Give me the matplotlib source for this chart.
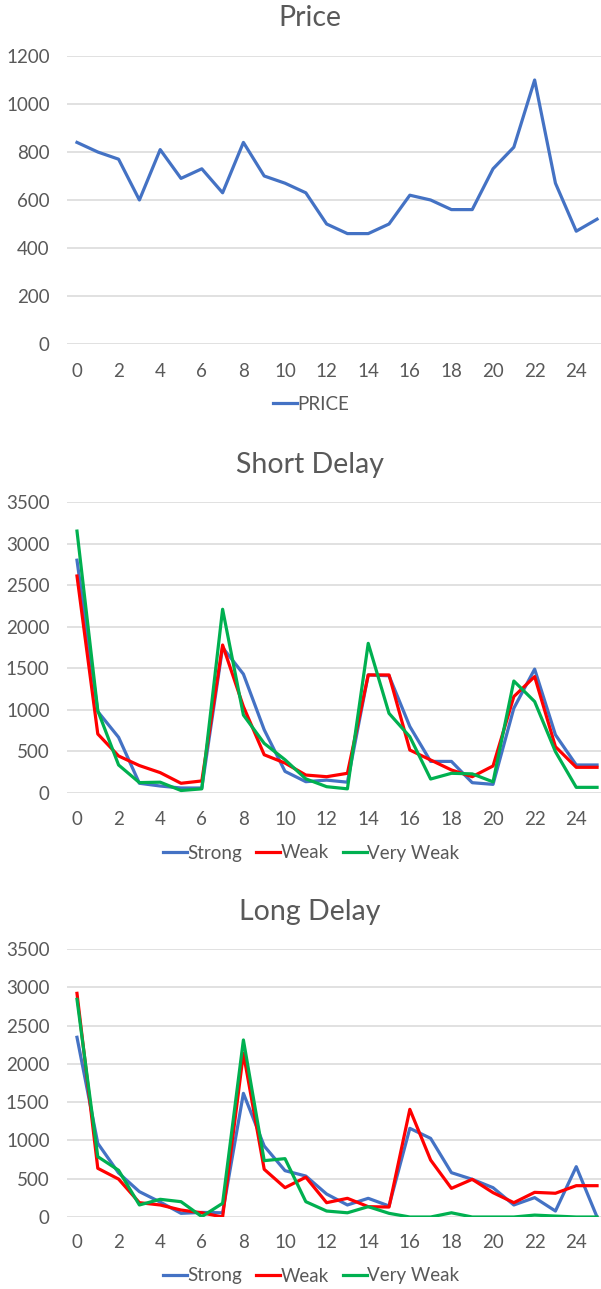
import matplotlib

matplotlib.use("Agg")
import matplotlib.pyplot as plt

# hours along the x axis
hours = list(range(26))

price = [840, 800, 770, 600, 810, 690, 730, 630, 840, 700, 670, 630, 500,
         460, 460, 500, 620, 600, 560, 560, 730, 820, 1100, 670, 470, 520]

short_strong = [2800, 980, 670, 117, 84, 60, 60, 1750, 1430, 760, 260, 136, 155,
                130, 1420, 1410, 800, 380, 380, 124, 104, 1020, 1490, 700, 337, 337]
short_weak = [2610, 710, 445, 330, 245, 117, 145, 1780, 1040, 460, 360, 216, 196,
              237, 1420, 1420, 517, 397, 277, 196, 325, 1160, 1400, 557, 309, 309]
short_very_weak = [3150, 990, 337, 125, 130, 30, 50, 2210, 938, 597, 400, 170, 76,
                   50, 1800, 958, 677, 168, 237, 230, 134, 1347, 1100, 497, 68, 68]

long_strong = [2347, 962, 575, 331, 195, 48, 60, 55, 1615, 927, 605, 535, 300,
               157, 244, 144, 1158, 1027, 579, 492, 383, 157, 253, 78, 657, 0]
long_weak = [2921, 636, 495, 187, 157, 91, 55, 0, 2138, 623, 383, 520, 187,
             244, 135, 130, 1406, 744, 374, 492, 318, 187, 322, 310, 409, 409]
long_very_weak = [2843, 788, 610, 157, 231, 200, 5, 179, 2312, 736, 762, 200, 78,
                  55, 135, 48, 0, 0, 55, 0, 0, 0, 25, 12, 0, 0]

BLUE = "#4472C4"
RED = "#FF0000"
GREEN = "#00B050"
TEXT = "#595959"
GRID = "#D9D9D9"

plt.rcParams["font.family"] = ["Lato", "DejaVu Sans"]

W, H = 601, 1289
fig = plt.figure(figsize=(W / 100, H / 100), dpi=100)


def px_axes(top, bottom):
    # axes rectangle from pixel rows (top, bottom); spans x 67..601
    return fig.add_axes([67 / W, 1 - bottom / H, (W - 67) / W, (bottom - top) / H])


def style(ax, ymax, ystep, xpad):
    ax.set_xlim(-0.48, 25.19)
    ax.set_ylim(0, ymax)
    ax.set_yticks(range(0, ymax + 1, ystep))
    ax.set_xticks(range(0, 25, 2))
    for s in ax.spines.values():
        s.set_visible(False)
    ax.grid(axis="y", color=GRID, lw=1.1)
    ax.set_axisbelow(True)
    ax.tick_params(length=0, labelsize=13.5, labelcolor=TEXT)
    ax.tick_params(axis="y", pad=12.5)
    ax.tick_params(axis="x", pad=xpad)


def legend(handles, labels, y):
    fig.legend(handles, labels, loc="center", bbox_to_anchor=(311 / W, 1 - y / H),
               ncol=len(labels), frameon=False, fontsize=13.5, labelcolor=TEXT,
               handlelength=1.3, handletextpad=0.0, columnspacing=0.75,
               borderaxespad=0, borderpad=0)


lw = 2.3

# Price
ax1 = px_axes(56, 344)
style(ax1, 1200, 200, 14)
(l1,) = ax1.plot(hours, price, color=BLUE, lw=lw)
fig.text(310 / W, 1 - 18 / H, "Price", ha="center", va="center", fontsize=20.5, color=TEXT)
legend([l1], ["PRICE"], 404)

# Short Delay
ax2 = px_axes(502, 793)
style(ax2, 3500, 500, 13)
series2 = [(short_strong, BLUE, "Strong"), (short_weak, RED, "Weak"),
           (short_very_weak, GREEN, "Very Weak")]
h2 = [ax2.plot(hours, v, color=c, lw=lw, label=n)[0] for v, c, n in series2]
fig.text(310 / W, 1 - 465 / H, "Short Delay", ha="center", va="center", fontsize=20.5, color=TEXT)
legend(h2, [n for _, _, n in series2], 853)

# Long Delay
ax3 = px_axes(949, 1217)
style(ax3, 3500, 500, 12)
series3 = [(long_strong, BLUE, "Strong"), (long_weak, RED, "Weak"),
           (long_very_weak, GREEN, "Very Weak")]
h3 = [ax3.plot(hours, v, color=c, lw=lw, label=n)[0] for v, c, n in series3]
fig.text(310 / W, 1 - 912 / H, "Long Delay", ha="center", va="center", fontsize=20.5, color=TEXT)
legend(h3, [n for _, _, n in series3], 1276)

fig.savefig("out.png", dpi=100)
